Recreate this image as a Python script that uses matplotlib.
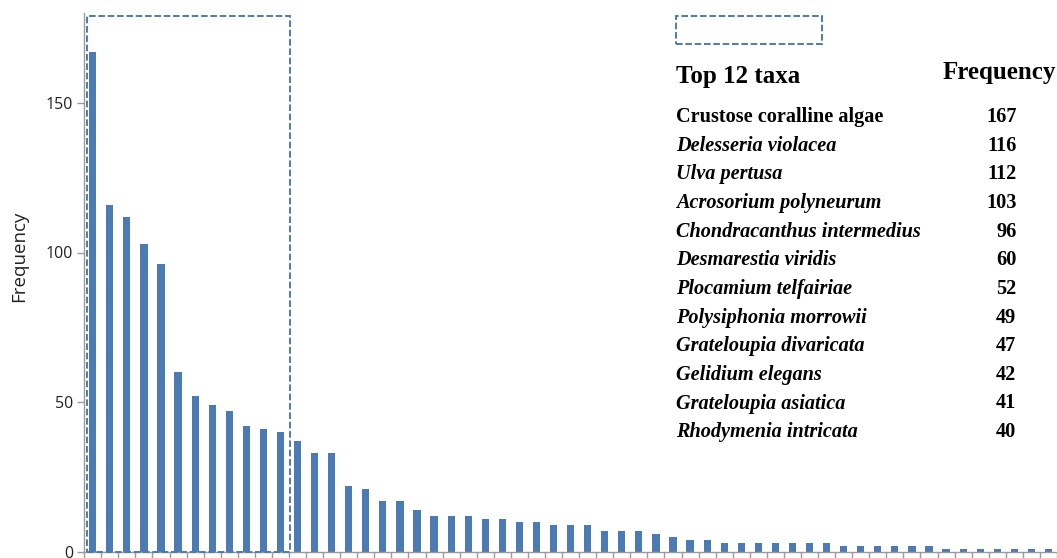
import matplotlib
matplotlib.use("Agg")
import matplotlib.pyplot as plt
from matplotlib.patches import Rectangle
import numpy as np

# Occurrence counts of every taxon, ranked from most to least frequent
frequency = [167, 116, 112, 103, 96, 60, 52, 49, 47, 42, 41, 40,
             37, 33, 33, 22, 21, 17, 17, 14, 12, 12, 12, 11, 11, 10, 10,
             9, 9, 9, 7, 7, 7, 6, 5, 4, 4,
             3, 3, 3, 3, 3, 3, 3,
             2, 2, 2, 2, 2, 2,
             1, 1, 1, 1, 1, 1, 1]

# Names of the twelve most frequent taxa (first one is not a species name)
top_taxa = ["Crustose coralline algae", "Delesseria violacea", "Ulva pertusa",
            "Acrosorium polyneurum", "Chondracanthus intermedius",
            "Desmarestia viridis", "Plocamium telfairiae", "Polysiphonia morrowii",
            "Grateloupia divaricata", "Gelidium elegans", "Grateloupia asiatica",
            "Rhodymenia intricata"]
italic_flags = [False] + [True] * 11

y_ticks = [0, 50, 100, 150]

W, H = 1057, 558
fig = plt.figure(figsize=(W / 100, H / 100), dpi=100)

def fx(px):
    return px / W

def fy(py):
    return 1 - py / H

bar_color = "#4c7bb4"
axis_color = "#9a9a9a"

# Axes placed in pixel terms
left_px, zero_px, top_px = 84.2, 551.5, 13.3
ax = fig.add_axes([fx(left_px), 1 - zero_px / H, 1 - fx(left_px), (zero_px - top_px) / H])

x = np.arange(len(frequency))
ax.bar(x, frequency, width=0.42, color=bar_color, zorder=2)

step_px = 17.2
ax.set_xlim(-0.5, -0.5 + (W - left_px) / step_px)
ax.set_ylim(0, 180)

for s in ("top", "right"):
    ax.spines[s].set_visible(False)
for s in ("left", "bottom"):
    ax.spines[s].set_color(axis_color)
    ax.spines[s].set_linewidth(1.0)

ax.set_xticks(np.arange(len(frequency) + 1) - 0.5)
ax.set_xticklabels([])
ax.tick_params(axis="x", length=5, width=1, color=axis_color, direction="out")

ax.set_yticks(y_ticks)
ax.set_yticklabels([str(v) for v in y_ticks], fontfamily="Open Sans", fontsize=11.5, color="#222222")
ax.tick_params(axis="y", length=5, width=1, color=axis_color, pad=3)

fig.text(fx(19.5), fy(256), "Frequency", rotation=90, ha="center", va="center",
         fontfamily="Open Sans", fontsize=13.5, color="#222222")

# Dashed frame around the twelve leading bars
dash = (0, (3.4, 1.4))
ax.add_patch(Rectangle((-0.34, 0), 11.88, 179, fill=False, edgecolor=bar_color,
                       linewidth=1.4, linestyle=dash, clip_on=False, zorder=3))

# Small dashed frame above the table
fig.add_artist(Rectangle((fx(675.5), fy(44.3)), fx(822.3) - fx(675.5), fy(15.7) - fy(44.3),
                         transform=fig.transFigure, fill=False, edgecolor=bar_color,
                         linewidth=1.4, linestyle=dash))

# Table of the top taxa
serif = "Liberation Serif"
fig.text(fx(676), fy(83.3), "Top 12 taxa", fontfamily=serif, fontweight="bold",
         fontsize=18, va="baseline", ha="left", color="black")
fig.text(fx(942.7), fy(79), "Frequency", fontfamily=serif, fontweight="bold",
         fontsize=18, va="baseline", ha="left", color="black")

row0, row_gap = 122.0, 28.65
for i, (name, it) in enumerate(zip(top_taxa, italic_flags)):
    yb = fy(row0 + i * row_gap)
    fig.text(fx(676), yb, name, fontfamily=serif, fontweight="bold",
             fontstyle="italic" if it else "normal", fontsize=14.6,
             va="baseline", ha="left", color="black")
    fig.text(fx(1016.5), yb, str(frequency[i]), fontfamily=serif, fontweight="bold",
             fontsize=14.6, va="baseline", ha="right", color="black")

fig.savefig("out.png", dpi=100)
